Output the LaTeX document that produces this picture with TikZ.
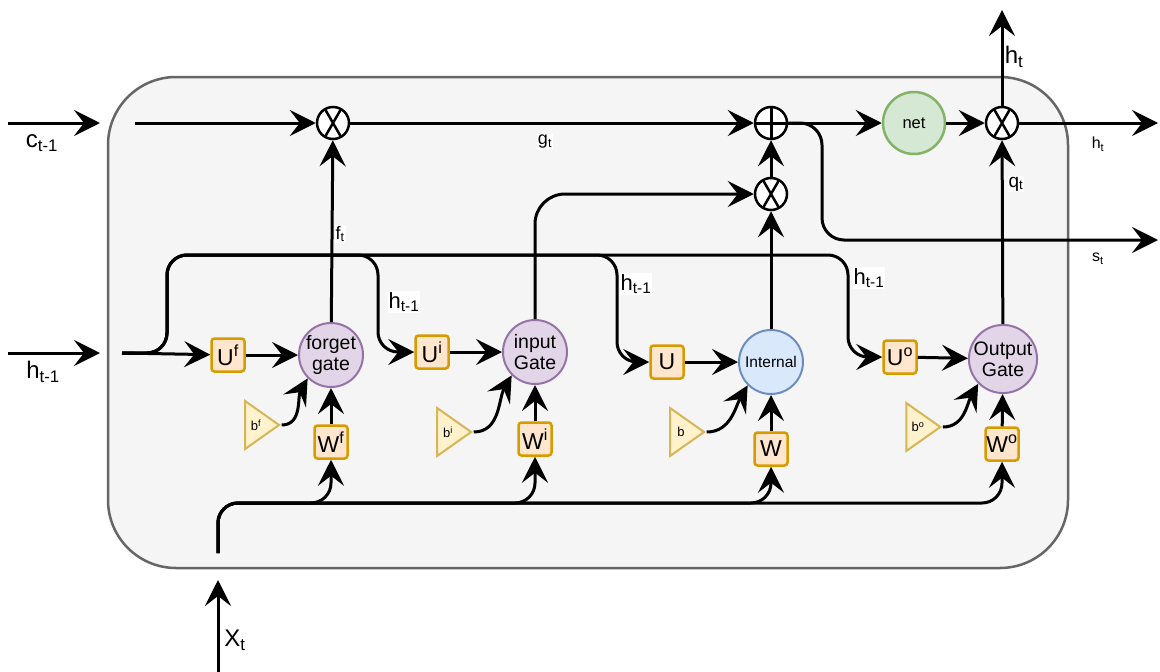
\documentclass[tikz,border=0pt]{standalone}
\usepackage{fontspec}
\setmainfont{Liberation Sans}
\usetikzlibrary{arrows.meta,shapes.geometric}
\definecolor{cellfill}{HTML}{F5F5F5}
\definecolor{cellline}{HTML}{666666}
\definecolor{gatefill}{HTML}{E1D5E7}
\definecolor{gateline}{HTML}{9673A6}
\definecolor{intfill}{HTML}{DAE8FC}
\definecolor{intline}{HTML}{6C8EBF}
\definecolor{netfill}{HTML}{D5E8D4}
\definecolor{netline}{HTML}{82B366}
\definecolor{wtfill}{HTML}{FFE6CC}
\definecolor{wtline}{HTML}{D79B00}
\definecolor{biasfill}{HTML}{FFF2CC}
\definecolor{biasline}{HTML}{D6B656}
\newcommand{\fs}[2]{\fontsize{#1}{#2}\selectfont}

\tikzset{
  wire/.style={line width=3pt},
  arr/.style={wire,-{Stealth[length=26pt,width=26pt,inset=10pt]}},
  prod/.style={circle,draw,line width=2.5pt,fill=white,minimum size=32pt,inner sep=0pt,
    path picture={\draw[line width=2.5pt]
      (path picture bounding box.center) +(120:20pt) -- +(300:20pt)
      (path picture bounding box.center) +(60:20pt) -- +(240:20pt);}},
  sum/.style={circle,draw,line width=2.5pt,fill=white,minimum size=32pt,inner sep=0pt,
    path picture={\draw[line width=3pt]
      (path picture bounding box.north) -- (path picture bounding box.south)
      (path picture bounding box.west) -- (path picture bounding box.east);}},
  gate/.style={circle,draw=gateline,fill=gatefill,line width=2pt,minimum size=64pt,
    inner sep=0pt,align=center,font=\fs{19.5}{21}},
  weight/.style={draw=wtline,fill=wtfill,line width=2.5pt,rounded corners=3pt,
    minimum size=33pt,inner sep=0pt,font=\fs{23}{23}},
  bias/.style={isosceles triangle,isosceles triangle stretches,draw=biasline,fill=biasfill,
    line width=2pt,minimum width=48pt,minimum height=34pt,inner sep=0pt,font=\fs{13}{13}},
  lbl/.style={fill=white,inner sep=1pt},
}

\begin{document}
\begin{tikzpicture}[x=1pt,y=-1pt]
\useasboundingbox (0,0) rectangle (1160,672);
\draw[draw=cellline,fill=cellfill,line width=2.5pt,rounded corners=68pt] (108,77) rectangle (1068,568);

\node[prod] (mulf) at (333,123) {};
\node[sum] (add) at (771,123) {};
\node[prod] (mulc) at (771,194) {};
\node[circle,draw=netline,fill=netfill,line width=2.5pt,minimum size=62pt,font=\fs{16.5}{18}] (net) at (914,123) {net};
\node[prod] (mulo) at (1002,123) {};

\node[gate] (fg) at (331,355) {forget\\gate};
\node[gate] (ig) at (535,352) {input\\Gate};
\node[gate,draw=intline,fill=intfill,font=\fs{15.5}{18}] (int) at (771,362) {Internal};
\node[gate] (og) at (1003,359) {Output\\Gate};

\node[weight] (uf) at (228,355) {U\textsuperscript{f}};
\node[weight] (ui) at (432,352) {U\textsuperscript{i}};
\node[weight] (u) at (667,362) {U};
\node[weight] (uo) at (900,357) {U\textsuperscript{o}};

\node[weight] (wf) at (331,442) {W\textsuperscript{f}};
\node[weight] (wi) at (535,439) {W\textsuperscript{i}};
\node[weight] (w) at (771,449) {W};
\node[weight] (wo) at (1002,444) {W\textsuperscript{o}};

\node[bias] (bf) at (256,425) {b\textsuperscript{f}};
\node[bias] (bi) at (448,432) {b\textsuperscript{i}};
\node[bias] (b) at (681,432) {b};
\node[bias] (bo) at (918,427) {b\textsuperscript{o}};

\coordinate (cin) at (8,123);
\coordinate (cend) at (100,123);
\coordinate (cstart) at (135,123);
\coordinate (hin) at (8,353);
\coordinate (hend) at (100,353);
\coordinate (hstart) at (122,353);
\coordinate (hsplit) at (167,353);
\coordinate (hbus) at (167,255);
\coordinate (xin) at (218,672);
\coordinate (xend) at (218,580);
\coordinate (xstart) at (218,553);
\coordinate (xbus) at (218,503);
\coordinate (htop) at (1002,10);
\coordinate (hout) at (1158,123);
\coordinate (sturn) at (822,123);
\coordinate (sout) at (1158,240);

\draw[arr] (cin) -- (cend);
\draw[arr] (cstart) -- (mulf);
\draw[arr] (mulf) -- (add);
\draw[arr] (add) -- (net);
\draw[arr] (net) -- (mulo);
\draw[arr] (mulo) -- (hout);
\draw[arr] (mulo) -- (htop);
\draw[arr,rounded corners=22pt] (add.east) -- (sturn) -- (822,240) -- (sout);
\draw[arr] (mulc) -- (add);
\draw[arr] (fg) -- (mulf);
\draw[arr,rounded corners=30pt] (ig) |- (mulc);
\draw[arr] (int) -- (mulc);
\draw[arr] (og) -- (mulo);

\draw[arr] (hin) -- (hend);
\draw[arr] (hstart) -- (uf);
\draw[arr,rounded corners=20pt] (hstart) -- (hsplit) -- (hbus) -- (378,255) |- (ui);
\draw[arr,rounded corners=20pt] (hstart) -- (hsplit) -- (hbus) -- (617,255) |- (u);
\draw[arr,rounded corners=20pt] (hstart) -- (hsplit) -- (hbus) -- (848,255) |- (uo);
\draw[arr] (uf) -- (fg);
\draw[arr] (ui) -- (ig);
\draw[arr] (u) -- (int);
\draw[arr] (uo) -- (og);

\draw[arr] (bf.apex) to[out=0,in=240] (fg.225);
\draw[arr] (bi.apex) to[out=0,in=240] (ig.225);
\draw[arr] (b.apex) to[out=0,in=240] (int.225);
\draw[arr] (bo.apex) to[out=0,in=240] (og.225);
\draw[arr] (wf) -- (fg);
\draw[arr] (wi) -- (ig);
\draw[arr] (w) -- (int);
\draw[arr] (wo) -- (og);

\draw[arr] (xin) -- (xend);
\draw[arr,rounded corners=20pt] (xstart) -- (xbus) -| (wf);
\draw[arr,rounded corners=20pt] (xstart) -- (xbus) -| (wi);
\draw[arr,rounded corners=20pt] (xstart) -- (xbus) -| (w);
\draw[arr,rounded corners=20pt] (xstart) -- (xbus) -| (wo);

\node[font=\fs{24}{24}] (clbl) at (42,143) {c\textsubscript{t-1}};
\node[font=\fs{24}{24}] (hlbl) at (43,372) {h\textsubscript{t-1}};
\node[font=\fs{24}{24}] (xlbl) at (235,640) {X\textsubscript{t}};
\node[lbl,font=\fs{18}{18}] (flbl) at (340,234) {f\textsubscript{t}};
\node[lbl,font=\fs{18}{18}] (glbl) at (545,142) {g\textsubscript{t}};
\node[lbl,font=\fs{19}{19}] (qlbl) at (1016,184) {q\textsubscript{t}};
\node[lbl,font=\fs{24}{24}] (htlbl) at (1014,57) {h\textsubscript{t}};
\node[font=\fs{16}{16}] (holbl) at (1098,144) {h\textsubscript{t}};
\node[font=\fs{16}{16}] (slbl) at (1098,259) {s\textsubscript{t}};
\node[lbl,font=\fs{22}{22}] (hilbl) at (404,302) {h\textsubscript{t-1}};
\node[lbl,font=\fs{22}{22}] (hclbl) at (636,284) {h\textsubscript{t-1}};
\node[lbl,font=\fs{22}{22}] (holbl2) at (869,278) {h\textsubscript{t-1}};
\end{tikzpicture}
\end{document}
